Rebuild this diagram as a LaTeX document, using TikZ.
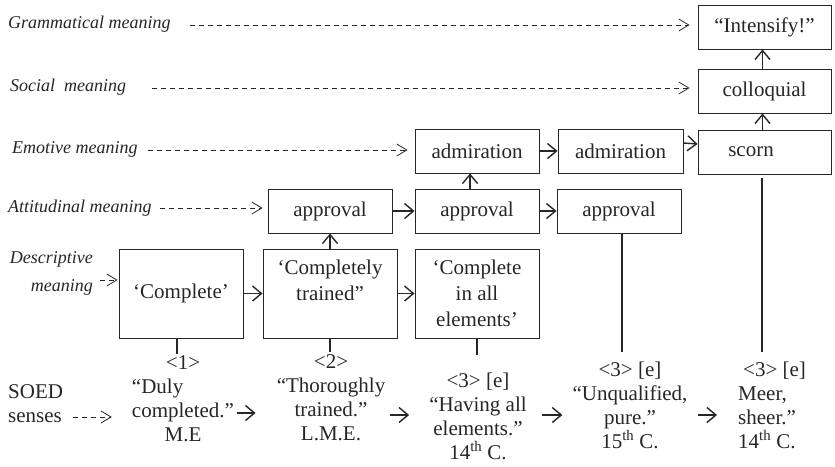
\documentclass[tikz,border=0pt]{standalone}
\usepackage{fontspec}
\setmainfont{Liberation Serif}
\usepackage{calc}
\usetikzlibrary{arrows.meta}
\definecolor{ink}{HTML}{262626}
\begin{document}
\begin{tikzpicture}[x=1pt,y=-1pt,
  every node/.style={text=ink},
  lab/.style={font=\fontsize{18}{28}\selectfont\itshape, anchor=west, inner sep=0pt},
  box/.style={draw=ink, line width=0.9pt, inner sep=0pt, align=center,
    font=\fontsize{21}{26}\selectfont},
  sense/.style={inner sep=0pt, align=center, font=\fontsize{21}{24}\selectfont},
  arr/.style={draw=ink, line width=1.4pt, -{Straight Barb[length=9pt,width=15pt]}},
  darr/.style={draw=ink, line width=0.8pt, dash pattern=on 5pt off 4pt,
    -{Straight Barb[length=10pt,width=12pt]}},
  stem/.style={draw=ink, line width=1.3pt}]
\useasboundingbox (0,0) rectangle (835,466);

% meaning boxes
\node[box, minimum width=133pt, minimum height=44pt] (int) at (764.5,27) {“Intensify!”};
\node[box, minimum width=133pt, minimum height=44pt] (col) at (764.5,91) {colloquial};
\node[box, minimum width=133pt, minimum height=44pt] (sco) at (764.5,152) {scorn\hspace*{27pt}};
\node[box, minimum width=124pt, minimum height=44pt] (adm1) at (477,151) {admiration};
\node[box, minimum width=125pt, minimum height=44pt] (adm2) at (620.5,151) {admiration};
\node[box, minimum width=124pt, minimum height=44pt] (app1) at (330,211) {approval};
\node[box, minimum width=124pt, minimum height=44pt] (app2) at (477,211) {approval};
\node[box, minimum width=124pt, minimum height=44pt] (app3) at (619,211) {approval};
\node[box, minimum width=124pt, minimum height=89pt] (d1) at (181,293.5) {‘Complete’};
\node[box, minimum width=134pt, minimum height=89pt] (d2) at (330,293.5) {‘Completely\\trained”\\\mbox{}};
\node[box, minimum width=124pt, minimum height=89pt] (d3) at (477,293.5) {‘Complete\\in all\\elements’};

% level labels
\node[lab] (gram) at (8,24) {Grammatical meaning};
\node[lab] (soc) at (10,87) {Social\ \ meaning};
\node[lab] (emo) at (12,149) {Emotive meaning};
\node[lab] (att) at (8,208) {Attitudinal meaning};
\node[lab, anchor=east, align=right] (desc) at (93,273) {Descriptive\\meaning};
\node[sense, anchor=west, align=left] (soed) at (8,404) {SOED\\senses};

% dictionary senses
\node[sense] (b1) at (183,399) {\textless1\textgreater\\\makebox[\widthof{completed.”}][l]{“Duly}\\completed.”\\M.E};
\node[sense] (b2) at (331,398) {\textless2\textgreater\\“Thoroughly\\trained.”\\L.M.E.};
\node[sense] (b3) at (478,416) {\textless3\textgreater{} [e]\\“Having all\\elements.”\\14\textsuperscript{th} C.};
\node[sense] (b4) at (630,405) {\textless3\textgreater{} [e]\\“Unqualified,\\pure.”\\15\textsuperscript{th} C.};
\node[sense, anchor=west, align=left] (b5) at (738,405) {\hspace*{5pt}\textless3\textgreater{} [e]\\Meer,\\sheer.”\\14\textsuperscript{th} C.};

% dashed level arrows
\draw[darr, shorten <=19pt, shorten >=8pt] (gram.east |- 0,25) -- (int.west |- 0,25);
\draw[darr, shorten <=26pt, shorten >=8pt] (soc.east |- 0,88) -- (col.west |- 0,88);
\draw[darr, shorten <=10pt, shorten >=7pt] (emo.east |- 0,150) -- (adm1.west |- 0,150);
\draw[darr, shorten <=8pt, shorten >=5pt] (att.east |- 0,208) -- (app1.west |- 0,208);
\draw[darr, shorten <=7pt, shorten >=1pt] (desc.east |- 0,280) -- (d1.west |- 0,280);
\draw[darr, shorten <=10pt, shorten >=20pt] (soed.east |- 0,417) -- (b1.west |- 0,417);

% development arrows
\draw[arr] (d1) -- (d2);
\draw[arr] (d2) -- (d3);
\draw[arr] (app1) -- (app2);
\draw[arr] (app2) -- (app3);
\draw[arr] (adm1) -- (adm2);
\draw[arr] ([yshift=8pt]adm2.east) -- ([yshift=8pt]sco.west);
\draw[arr] (d2.north) -- (app1.south);
\draw[arr] ([xshift=-7pt]app2.north) -- ([xshift=-7pt]adm1.south);
\draw[arr] ([xshift=-2pt]sco.north) -- ([xshift=-2pt]col.south);
\draw[arr] ([xshift=-2pt]col.north) -- ([xshift=-2pt]int.south);

% stems down to the senses
\draw[stem] ([xshift=-4pt]d1.south) -- ++(0,16);
\draw[stem] (d2.south) -- ++(0,14);
\draw[stem] (d3.south) -- ++(0,17);
\draw[stem] ([xshift=3pt]app3.south) -- ++(0,119);
\draw[stem] ([xshift=-2.5pt,yshift=-4pt]sco.south) -- ++(0,174);

% arrows between the senses
\draw[arr, shorten <=3pt, shorten >=21pt] (b1.east |- 0,413) -- (b2.west |- 0,413);
\draw[arr, shorten <=5pt, shorten >=20pt] (b2.east |- 0,415) -- (b3.west |- 0,415);
\draw[arr, shorten <=15pt, shorten >=10pt] (b3.east |- 0,415) -- (b4.west |- 0,415);
\draw[arr, shorten <=10pt, shorten >=21pt] (b4.east |- 0,415) -- (b5.west |- 0,415);
\end{tikzpicture}
\end{document}
